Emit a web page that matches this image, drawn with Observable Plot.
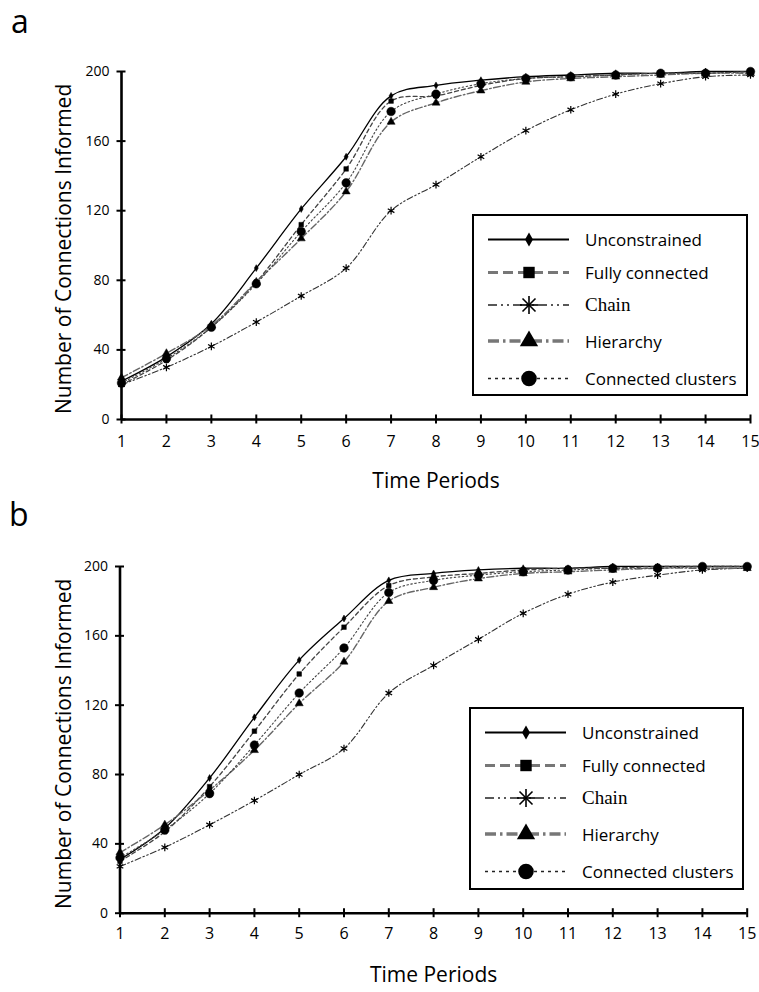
<!DOCTYPE html>
<html><head><meta charset="utf-8">
<script src="https://cdn.jsdelivr.net/npm/d3@7"></script>
<script src="https://cdn.jsdelivr.net/npm/@observablehq/plot@0.6"></script>
<style>
body{margin:0;background:#fff;}
#wrap{position:relative;width:759px;height:992px;font-family:"Open Sans",sans-serif;overflow:hidden;}
.panel{position:absolute;left:0;}
.legend{position:absolute;border:2px solid #000;background:#fff;box-sizing:border-box;}
.legend svg{position:absolute;left:-2px;top:-2px;overflow:visible;}
</style></head><body><div id="wrap"></div>
<script>
// ---- data ----
const periods = [1,2,3,4,5,6,7,8,9,10,11,12,13,14,15];
const yTicks = [0,40,80,120,160,200];
const seriesNames = ["Unconstrained","Fully connected","Chain","Hierarchy","Connected clusters"];
const panelLabels = ["a","b"];
const xTitle = "Time Periods";
const yTitle = "Number of Connections Informed";

// panel a
const aUnconstrained = [22,36,55,87,121,151,186,192,195,197,198,199,199,200,200];
const aFully        = [20,34,53,79,112,144,183,186,192,196,197,198,199,199,200];
const aChain        = [20,30,42,56,71,87,120,135,151,166,178,187,193,197,198];
const aHierarchy    = [24,38,54,79,104,131,171,182,189,194,196,197,198,199,199];
const aClusters     = [21,35,53,78,108,136,177,187,193,196,197,198,199,199,200];
// panel b
const bUnconstrained = [31,49,78,113,146,170,192,196,198,199,199,200,200,200,200];
const bFully        = [30,47,73,105,138,165,189,194,196,198,199,199,200,200,200];
const bChain        = [27,38,51,65,80,95,127,143,158,173,184,191,195,198,199];
const bHierarchy    = [35,51,71,94,121,145,180,188,193,196,197,198,199,199,199];
const bClusters     = [32,48,69,97,127,153,185,192,195,197,198,199,199,200,200];

// ---- styles ----
const styles = [
  {stroke:"#000", width:1.3, dash:null, symbol:"diamond", r:2.1, fill:"#000",
   lStroke:"#000", lWidth:2, lDash:null},
  {stroke:"#444", width:1.3, dash:"4,3", symbol:"square", r:2.6, fill:"#000",
   lStroke:"#777", lWidth:3, lDash:"10,5"},
  {stroke:"#333", width:1.1, dash:"6,2.5,1.5,2.5,1.5,2.5", symbol:"asterisk", r:3.6, fill:"none",
   lStroke:"#222", lWidth:1.6, lDash:"9,4,2,4,2,4"},
  {stroke:"#666", width:1.4, dash:"7,2.5,1.5,2.5", symbol:"triangle", r:3, fill:"#000",
   lStroke:"#777", lWidth:3.5, lDash:"11,4,2.5,4"},
  {stroke:"#444", width:1.1, dash:"1.5,2.5", symbol:"circle", r:4.3, fill:"#000",
   lStroke:"#222", lWidth:1.6, lDash:"3,4"}
];

const wrap = document.getElementById("wrap");

function rowsOf(arr, name){ return periods.map((t,j)=>({t, v:arr[j], s:name})); }

function makePanel(cfg){
  const {series, top, height, mt, mb, ml, mr, xPad, titleDy, ydx, ydy} = cfg;
  const innerH = height - mt - mb, innerW = 759 - ml - mr;
  const marks = [];
  series.forEach((arr,i)=>{
    const st = styles[i];
    marks.push(Plot.line(rowsOf(arr, seriesNames[i]), {x:"t", y:"v", curve:"catmull-rom",
      stroke:st.stroke, strokeWidth:st.width, strokeDasharray:st.dash}));
  });
  series.forEach((arr,i)=>{
    const st = styles[i];
    marks.push(Plot.dot(rowsOf(arr, seriesNames[i]), {x:"t", y:"v", symbol:st.symbol, r:st.r,
      fill:st.fill, stroke:"#000", strokeWidth: st.symbol==="asterisk"?1.2:0.5}));
  });
  marks.push(
    Plot.ruleX([1], {y1:0, y2:200, stroke:"#000", strokeWidth:2.6}),
    Plot.ruleY([0], {x1:1, x2:15, stroke:"#000", strokeWidth:2.6}),
    Plot.tickX(periods, {x:d=>d, insetTop:innerH-4.5, insetBottom:-4.5, stroke:"#000", strokeWidth:2}),
    Plot.tickY(yTicks, {y:d=>d, insetLeft:-4.5, insetRight:innerW-4.5, stroke:"#000", strokeWidth:2}),
    Plot.axisX(periods, {tickSize:0, tickPadding:xPad, fontSize:16, label:null, tickFormat:d=>String(d)}),
    Plot.axisY(yTicks, {tickSize:0, tickPadding:12, fontSize:14, label:null, tickFormat:d=>String(d)}),
    Plot.text([xTitle], {frameAnchor:"bottom", dy:titleDy, fontSize:21, fill:"#000"}),
    Plot.text([yTitle], {frameAnchor:"left", textAnchor:"middle", rotate:-90, dx:ydx, dy:ydy, fontSize:21, fill:"#000"})
  );
  const chart = Plot.plot({
    width:759, height, marginTop:mt, marginBottom:mb, marginLeft:ml, marginRight:mr,
    x:{domain:[1,15]}, y:{domain:[0,200]},
    style:{fontFamily:"'Open Sans', sans-serif", color:"#000", background:"transparent", overflow:"visible"},
    marks
  });
  const div = document.createElement("div");
  div.className = "panel";
  div.style.top = top + "px";
  div.appendChild(chart);
  wrap.appendChild(div);
}

makePanel({series:[aUnconstrained,aFully,aChain,aHierarchy,aClusters], top:0, height:500,
  mt:71, mb:81, ml:121, mr:9, xPad:16, titleDy:68.3, ydx:-57.7, ydy:3.4});
makePanel({series:[bUnconstrained,bFully,bChain,bHierarchy,bClusters], top:495, height:497,
  mt:71, mb:79.3, ml:119.5, mr:12.3, xPad:14, titleDy:68.9, ydx:-56.2, ydy:4});

// ---- legends ----
const rowY = [25.5, 58.5, 91, 127, 164.5];
function makeLegend(left, top, w, h){
  const div = document.createElement("div");
  div.className = "legend";
  Object.assign(div.style, {left:left+"px", top:top+"px", width:w+"px", height:h+"px"});
  const svg = d3.create("svg").attr("width", w).attr("height", h);
  seriesNames.forEach((name,i)=>{
    const st = styles[i], y = rowY[i];
    svg.append("line").attr("x1",16).attr("x2",97).attr("y1",y).attr("y2",y)
      .attr("stroke",st.lStroke).attr("stroke-width",st.lWidth)
      .attr("stroke-dasharray",st.lDash);
    const mx = 57;
    if (st.symbol==="asterisk"){
      const g = svg.append("g").attr("transform",`translate(${mx},${y})`)
        .attr("stroke","#000").attr("stroke-width",1.6);
      [[0,-9,0,9],[-6.5,-6.5,6.5,6.5],[-6.5,6.5,6.5,-6.5],[-9,0,9,0]].forEach(([a,b,c,d])=>
        g.append("line").attr("x1",a).attr("y1",b).attr("x2",c).attr("y2",d));
    } else {
      const t = {diamond:d3.symbolDiamond, square:d3.symbolSquare, triangle:d3.symbolTriangle, circle:d3.symbolCircle}[st.symbol];
      const size = {diamond:55, square:130, triangle:145, circle:190}[st.symbol];
      svg.append("path").attr("d", d3.symbol(t, size)()).attr("transform",`translate(${mx},${y})`)
        .attr("fill","#000");
    }
    const serif = name==="Chain";
    svg.append("text").attr("x",113).attr("y",y+ (serif?6:6.5))
      .attr("font-family", serif ? "'Liberation Serif', serif" : "'Open Sans', sans-serif")
      .attr("font-size", serif ? 19 : 17).attr("fill","#000").text(name);
  });
  div.appendChild(svg.node());
  wrap.appendChild(div);
}
makeLegend(471.7, 214, 276, 182);
makeLegend(469, 706.7, 275, 183);

// ---- panel letters ----
const lab = d3.create("svg").attr("width",759).attr("height",992)
  .style("position","absolute").style("left","0").style("top","0").style("pointer-events","none");
lab.append("text").attr("x",11).attr("y",33).attr("font-family","'Open Sans', sans-serif")
  .attr("font-size",32).attr("fill","#000").text(panelLabels[0]);
lab.append("text").attr("x",9).attr("y",526).attr("font-family","'Open Sans', sans-serif")
  .attr("font-size",32).attr("fill","#000").text(panelLabels[1]);
wrap.appendChild(lab.node());
</script></body></html>
